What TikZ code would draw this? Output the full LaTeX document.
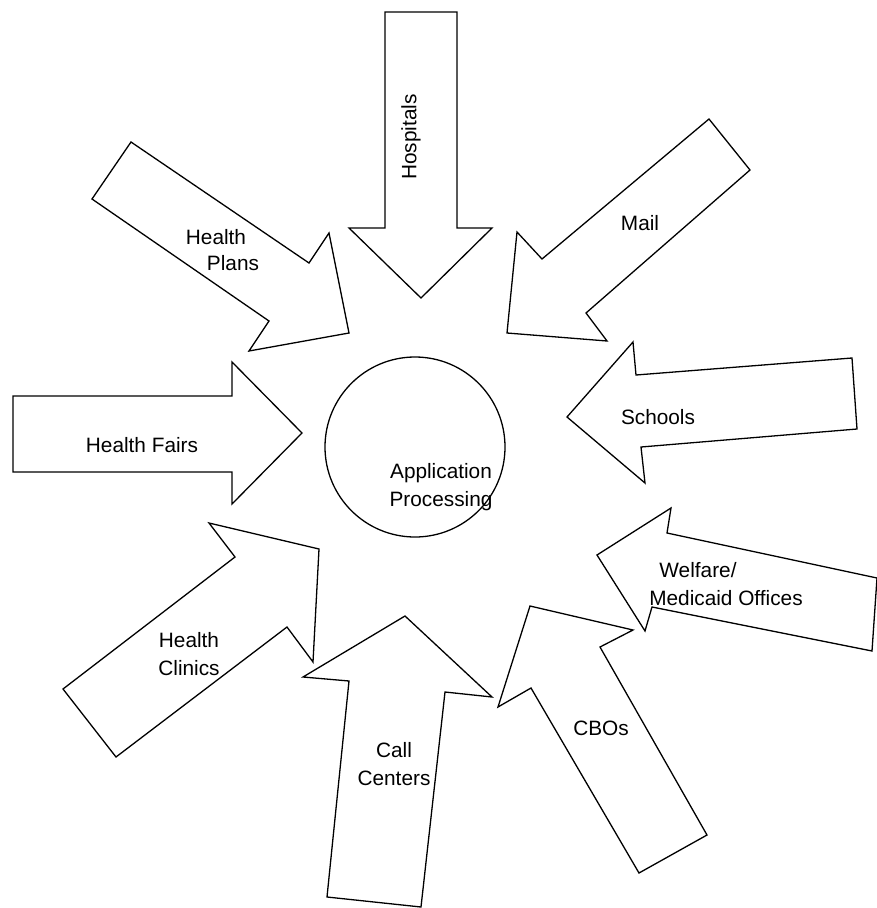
\documentclass[tikz,border=0pt]{standalone}
\usepackage{fontspec}
\setmainfont{Liberation Sans}
\begin{document}
\begin{tikzpicture}[x=1pt,y=-1pt,
  arr/.style={draw=black,line width=1.3pt,line join=miter,fill=white},
  lbl/.style={font=\fontsize{20.8}{27.5}\selectfont,text=black,inner sep=0pt,align=center}]
\useasboundingbox (0,0) rectangle (877,908);
% central circle
\node[draw=black,line width=1.3pt,circle,minimum size=180pt,inner sep=0pt] (hub) at (415,447) {};
\node[lbl] (hubtxt) at (441,487) {Application\\Processing};
% Hospitals
\draw[arr] (385,12) -- (457,12) -- (457,228) -- (492,228) -- (421,298) -- (349,228) -- (385,228) -- cycle;
\node[lbl,rotate=90] (hosp) at (411,137) {Hospitals};
% Health Plans
\draw[arr] (131,142) -- (309,263) -- (329,233) -- (349,333) -- (249,351) -- (269,321) -- (92,199) -- cycle;
\node[lbl] (hp1) at (216,237) {Health};
\node[lbl] (hp2) at (233,263) {Plans};
% Mail
\draw[arr] (709,119) -- (750,170) -- (586,313) -- (607,341) -- (507,333) -- (517,232) -- (542,259) -- cycle;
\node[lbl] (mail) at (640,223) {Mail};
% Health Fairs
\draw[arr] (13,396) -- (232,396) -- (232,362) -- (302,433) -- (232,504) -- (232,472) -- (13,472) -- cycle;
\node[lbl] (hf) at (142,445) {Health Fairs};
% Schools
\draw[arr] (633,342) -- (636,375) -- (852,358) -- (857,429) -- (641,447) -- (645,483) -- (567,417) -- cycle;
\node[lbl] (sch) at (658,417) {Schools};
% Health Clinics
\draw[arr] (63,689) -- (235,557) -- (209,523) -- (319,549) -- (313,662) -- (287,627) -- (116,757) -- cycle;
\node[lbl] (hc) at (189,654) {Health\\Clinics};
% Call Centers
\draw[arr] (405,616) -- (492,697) -- (445,692) -- (421,907) -- (327,897) -- (349,681) -- (303,677) -- cycle;
\node[lbl] (cc) at (394,764) {Call\\Centers};
% Welfare / Medicaid Offices
\draw[arr] (671,508) -- (667,533) -- (877,578) -- (872,651) -- (652,607) -- (645,631) -- (597,555) -- cycle;
\node[lbl] (wf1) at (698,570) {Welfare/};
\node[lbl] (wf2) at (726,598) {Medicaid Offices};
% CBOs
\draw[arr] (530,606) -- (633,630) -- (600,647) -- (707,835) -- (639,873) -- (531,688) -- (498,707) -- cycle;
\node[lbl] (cbo) at (601,728) {CBOs};
\end{tikzpicture}
\end{document}
